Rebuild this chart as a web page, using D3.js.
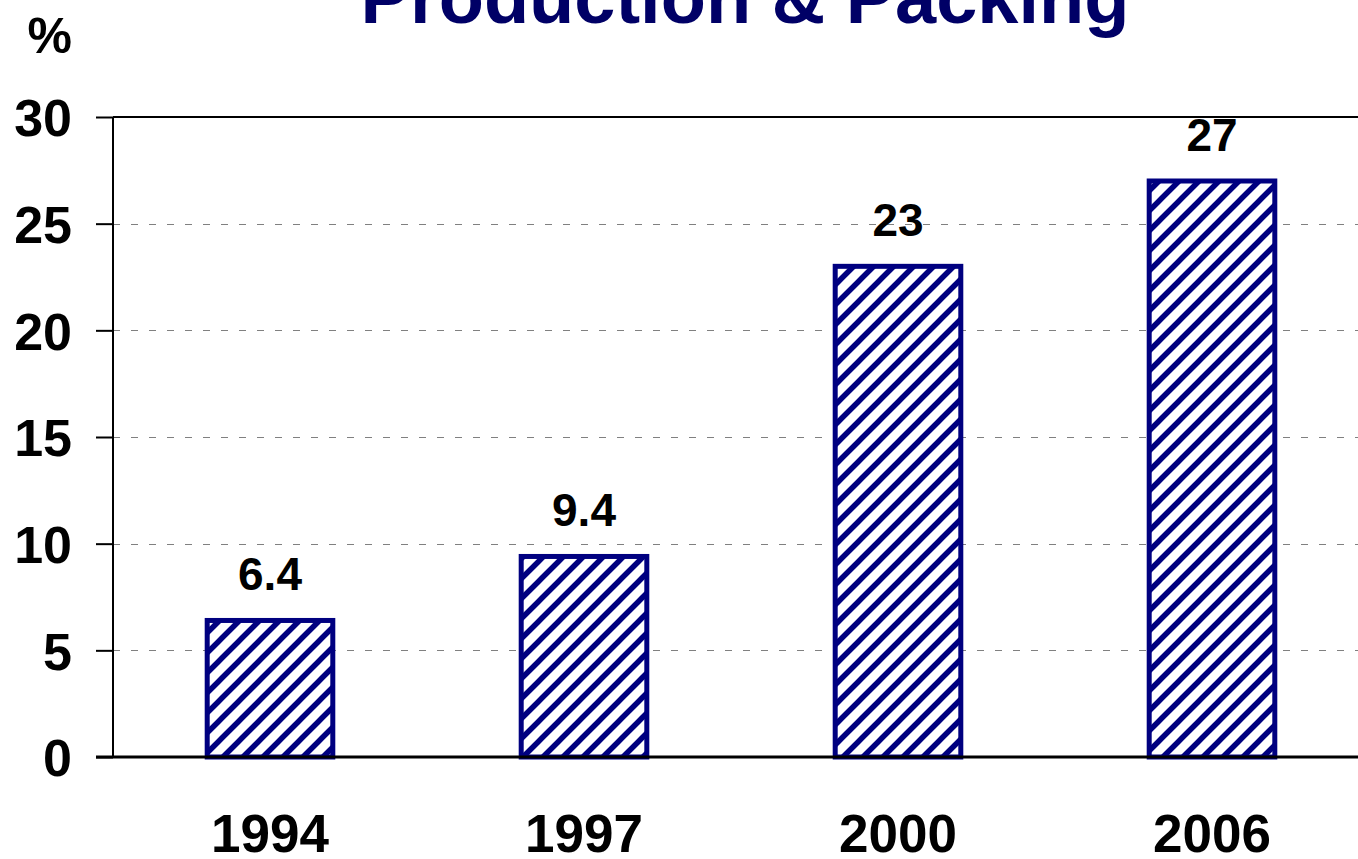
<!DOCTYPE html>
<html>
<head>
<meta charset="utf-8">
<script src="https://cdn.jsdelivr.net/npm/d3@7"></script>
<style>
  html, body { margin: 0; padding: 0; background: #fff; }
  svg { display: block; font-family: "Liberation Sans", Arial, sans-serif; }
</style>
</head>
<body>
<svg id="chart" width="1358" height="859"></svg>
<script>
// Share of production & packing, by survey year (%)
const years = ["1994", "1997", "2000", "2006"];
const shares = [6.4, 9.4, 23, 27];
const yTicks = [0, 5, 10, 15, 20, 25, 30];
const titleText = "Production & Packing";
const unitText = "%";

const svg = d3.select("#chart");
const W = 1358, H = 859;
const plot = { left: 113, right: 1369, top: 117, bottom: 757 };
const navy = "#000080";

const x = d3.scaleBand()
  .domain(years)
  .range([plot.left, plot.right])
  .paddingInner(0.6)
  .paddingOuter(0.3);

const y = d3.scaleLinear()
  .domain([0, 30])
  .range([plot.bottom, plot.top]);

// Diagonal hatch fill for the bars
const defs = svg.append("defs");
const pat = defs.append("pattern")
  .attr("id", "hatch")
  .attr("patternUnits", "userSpaceOnUse")
  .attr("width", 20)
  .attr("height", 20);
pat.append("rect").attr("width", 20).attr("height", 20).attr("fill", "#fff");
pat.append("path")
  .attr("d", "M-5,5 L5,-5 M0,20 L20,0 M15,25 L25,15")
  .attr("stroke", navy)
  .attr("stroke-width", 5.5)
  .attr("stroke-linecap", "square");

// Gridlines (dashed) for interior ticks
svg.append("g")
  .selectAll("line")
  .data(yTicks.filter(t => t > 0 && t < 30))
  .join("line")
  .attr("x1", plot.left)
  .attr("x2", W)
  .attr("y1", d => Math.round(y(d)) + 0.5)
  .attr("y2", d => Math.round(y(d)) + 0.5)
  .attr("stroke", "#808080")
  .attr("stroke-width", 1)
  .attr("stroke-dasharray", "7,11");

// Top rule at 30
svg.append("line")
  .attr("x1", plot.left).attr("x2", W)
  .attr("y1", y(30)).attr("y2", y(30))
  .attr("stroke", "#000").attr("stroke-width", 2);

// Y axis
const yAxis = d3.axisLeft(y)
  .tickValues(yTicks)
  .tickSize(17)
  .tickPadding(24)
  .tickFormat(d3.format("d"));
const gy = svg.append("g")
  .attr("transform", `translate(${plot.left},0)`)
  .call(yAxis);
gy.select(".domain").remove();
gy.selectAll(".tick line").attr("stroke", "#000").attr("stroke-width", 2);
gy.selectAll(".tick text")
  .attr("fill", "#000")
  .attr("font-size", 52)
  .attr("font-weight", "bold")
  .attr("font-family", "'Liberation Sans', Arial, sans-serif")
  .attr("dy", "0.36em");
svg.append("line")
  .attr("x1", plot.left).attr("x2", plot.left)
  .attr("y1", y(30)).attr("y2", y(0))
  .attr("stroke", "#000").attr("stroke-width", 2);

// Bars
svg.append("g")
  .selectAll("rect")
  .data(years.map((yr, i) => ({ yr, v: shares[i] })))
  .join("rect")
  .attr("x", d => x(d.yr))
  .attr("width", x.bandwidth())
  .attr("y", d => y(d.v))
  .attr("height", d => y(0) - y(d.v))
  .attr("fill", "url(#hatch)")
  .attr("stroke", navy)
  .attr("stroke-width", 5);

// Baseline
svg.append("line")
  .attr("x1", 96).attr("x2", W)
  .attr("y1", y(0)).attr("y2", y(0))
  .attr("stroke", "#000").attr("stroke-width", 3);

// Value labels
svg.append("g")
  .selectAll("text")
  .data(years.map((yr, i) => ({ yr, v: shares[i] })))
  .join("text")
  .attr("x", d => x(d.yr) + x.bandwidth() / 2)
  .attr("y", d => y(d.v) - 30)
  .attr("text-anchor", "middle")
  .attr("font-size", 46)
  .attr("font-weight", "bold")
  .attr("fill", "#000")
  .text(d => d.v);

// Category labels
svg.append("g")
  .selectAll("text")
  .data(years)
  .join("text")
  .attr("x", d => x(d) + x.bandwidth() / 2)
  .attr("y", 852)
  .attr("text-anchor", "middle")
  .attr("font-size", 53)
  .attr("font-weight", "bold")
  .attr("fill", "#000")
  .text(d => d);

// Unit label
svg.append("text")
  .attr("x", 72).attr("y", 53)
  .attr("text-anchor", "end")
  .attr("font-size", 50)
  .attr("font-weight", "bold")
  .attr("fill", "#000")
  .text(unitText);

// Title
svg.append("text")
  .attr("x", 745).attr("y", 23)
  .attr("text-anchor", "middle")
  .attr("font-size", 74)
  .attr("font-weight", "bold")
  .attr("fill", "#000066")
  .text(titleText);
</script>
</body>
</html>
